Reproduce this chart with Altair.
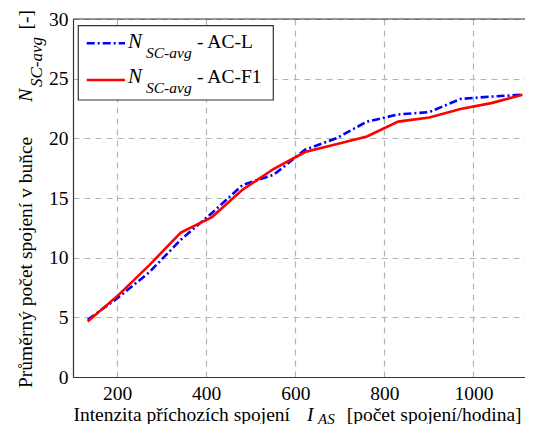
import altair as alt
import pandas as pd

# ---- data ----
intensity = [134, 204, 273, 343, 413, 482, 552, 622, 692, 761, 831, 901, 971, 1040, 1110]
ac_l = [4.8, 6.7, 8.8, 11.5, 13.75, 16.1, 16.95, 19.05, 20.0, 21.4, 22.0, 22.2, 23.3, 23.5, 23.65]
ac_f1 = [4.65, 6.9, 9.4, 12.1, 13.4, 15.7, 17.45, 18.85, 19.5, 20.15, 21.4, 21.75, 22.45, 22.95, 23.65]
series_names = ["AC-L", "AC-F1"]
series_colors = ["#0000FF", "#FF0000"]
x_ticks = [200, 400, 600, 800, 1000]
y_ticks = [0, 5, 10, 15, 20, 25, 30]

x_title_main = "Intenzita příchozích spojení"
x_title_sym = "I"
x_title_sub = "AS"
x_title_unit = "[počet spojení/hodina]"
y_title_main = "Průměrný počet spojení v buňce"
y_title_sym = "N"
y_title_sub = "SC-avg"
y_title_unit = "[-]"
legend_sym = "N"
legend_sub = "SC-avg"
legend_suffix = ["- AC-L", "- AC-F1"]

FONT = "Liberation Serif"
FS = 19.5
W, H = 452, 358
X_DOMAIN = [101, 101 + W / 0.4454]

rows = []
for name, vals in zip(series_names, [ac_l, ac_f1]):
    for xv, yv in zip(intensity, vals):
        rows.append({"x": xv, "y": yv, "s": name})
df = pd.DataFrame(rows)

axis_common = dict(title=None, labelFont=FONT, labelFontSize=FS, labelColor="black",
                   domainColor="#333333", domainWidth=1.2, ticks=False,
                   grid=True, gridColor="#b4b4b4", gridDash=[6, 5], gridWidth=1.2)
xs = alt.X("x:Q", scale=alt.Scale(domain=X_DOMAIN, nice=False, zero=False),
           axis=alt.Axis(values=x_ticks, format="d", labelPadding=7, **axis_common))
ys = alt.Y("y:Q", scale=alt.Scale(domain=[0, 30], nice=False),
           axis=alt.Axis(values=y_ticks, labelPadding=5, **axis_common))

blue = alt.Chart(df[df.s == "AC-L"]).mark_line(
    color="#0000FF", strokeWidth=2.6, strokeDash=[8, 3, 2, 3]).encode(x=xs, y=ys)
red = alt.Chart(df[df.s == "AC-F1"]).mark_line(
    color="#FF0000", strokeWidth=2.6).encode(x=xs, y=ys)

one = pd.DataFrame({"t": [""]})


def txt(s, x, y, size=FS, italic=False, angle=0):
    kw = dict(font=FONT, fontSize=size, align="left", baseline="alphabetic")
    if italic:
        kw["fontStyle"] = "italic"
    if angle:
        kw["angle"] = angle
    return alt.Chart(pd.DataFrame({"t": [s]})).mark_text(**kw).encode(
        text="t:N", x=alt.value(x), y=alt.value(y))


top_border = alt.Chart(one).mark_rule(color="#333333", strokeWidth=1.2).encode(
    x=alt.value(0), x2=alt.value(W), y=alt.value(0))

legend_box = alt.Chart(one).mark_rect(fill="white", stroke="#333333", strokeWidth=1.2).encode(
    x=alt.value(5.3), x2=alt.value(200.3), y=alt.value(6.7), y2=alt.value(81))
leg_l = alt.Chart(one).mark_rule(color="#0000FF", strokeWidth=2.6, strokeDash=[8, 3, 2, 3]).encode(
    x=alt.value(13.7), x2=alt.value(52), y=alt.value(24.3))
leg_f = alt.Chart(one).mark_rule(color="#FF0000", strokeWidth=2.6).encode(
    x=alt.value(13.7), x2=alt.value(52), y=alt.value(61))

texts = [
    txt(legend_sym, 55, 29.3, 21, True),
    txt(legend_sub, 73, 39.3, 15.5, True),
    txt(legend_suffix[0], 124, 29.3),
    txt(legend_sym, 55, 64.3, 21, True),
    txt(legend_sub, 73, 74.3, 15.5, True),
    txt(legend_suffix[1], 124, 64.3),
    txt(x_title_main, 0.4, 402),
    txt(x_title_sym, 234, 402, 19.5, True),
    txt(x_title_sub, 245, 405, 15, True),
    txt(x_title_unit, 273.7, 402),
    txt(y_title_main, -41.3, 369, angle=270),
    txt(y_title_sym, -41.3, 82.7, 19.5, True, angle=270),
    txt(y_title_sub, -31, 68, 17, True, angle=270),
    txt(y_title_unit, -41.3, 10.5, angle=270),
]

chart = alt.layer(blue, red, top_border, legend_box, leg_l, leg_f, *texts).properties(
    width=W, height=H,
    autosize=alt.AutoSizeParams(type="none"),
    padding={"left": 65, "top": 11, "right": 0, "bottom": 47},
).configure_view(stroke=None)

chart.save("out.html", embed_options={"renderer": "svg", "actions": False})
